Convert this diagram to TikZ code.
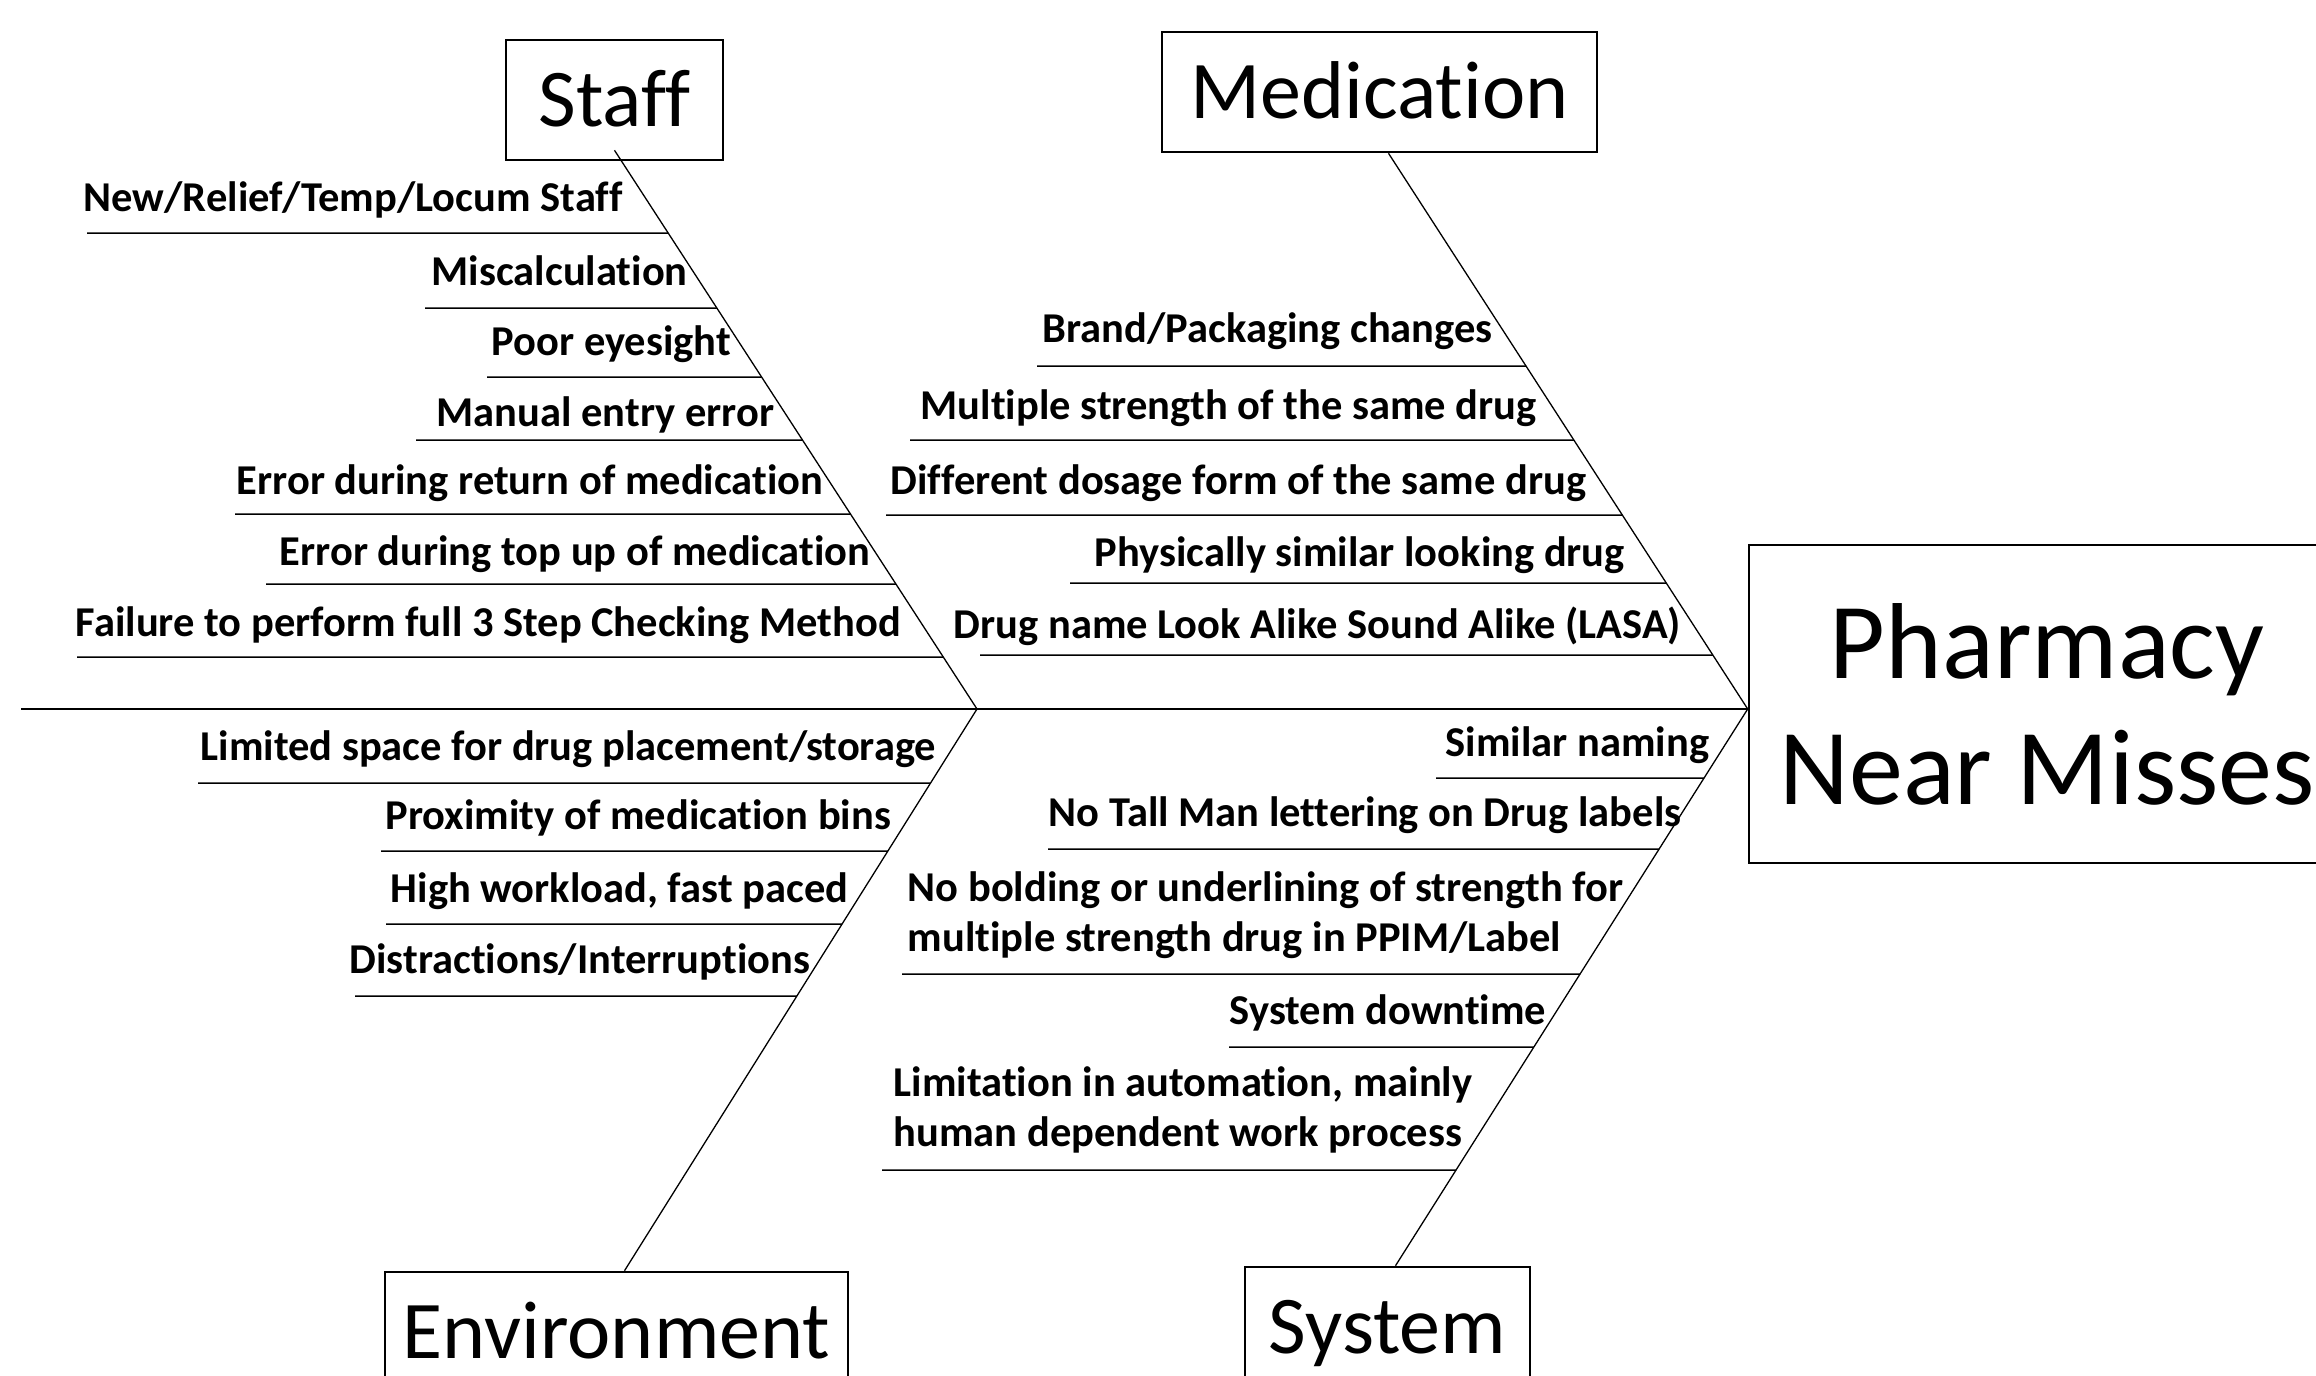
\documentclass[tikz,border=0pt]{standalone}
\usepackage{fontspec}
\setmainfont{Carlito}[Ligatures=NoCommon]
\usetikzlibrary{calc}

\tikzset{
  head/.style={draw, line width=2.6pt, inner sep=0pt, minimum height=120pt,
    text height=52pt, text depth=0pt, font=\fontsize{82}{98}\selectfont},
  cause/.style={inner sep=0pt, anchor=base west, align=left,
    font=\fontsize{42.5}{50}\selectfont\bfseries},
  bone/.style={line width=1.3pt},
  twig/.style={line width=1.5pt}
}

\begin{document}
\begin{tikzpicture}[x=1pt, y=-1pt]
  \useasboundingbox (0,0) rectangle (2316,1376);
  \node[head, minimum width=217pt] (staff) at (614.5,100) {Staff};
  \node[head, minimum width=435pt] (med) at (1379.5,92) {Medication};
  \node[head, minimum width=463pt] (env) at (616.5,1332) {Environment};
  \node[head, minimum width=285pt] (sys) at (1387.5,1327) {System};
  \node[draw, line width=2.6pt, minimum width=596pt, minimum height=318pt, align=center,
    font=\fontsize{108}{126}\selectfont] (effect) at (2047,704) {Pharmacy\\Near Misses};
  \coordinate (tail) at (21,709);
  \coordinate (j1) at (977,709);
  \coordinate (j2) at (tail -| effect.west);
  \coordinate (staffroot) at ([yshift=11pt]staff.south);
  \coordinate (medroot) at ([xshift=9pt]med.south);
  \coordinate (envroot) at ([xshift=8pt]env.north);
  \coordinate (sysroot) at ([xshift=8pt]sys.north);
  \draw[bone] (tail) -- (j2);
  \draw[bone] (staffroot) -- (j1) -- (envroot);
  \draw[bone] (medroot) -- (j2) -- (sysroot);
  \foreach \ly/\lx/\tx/\bl/\txt [count=\i] in {
      233/87/83/211/{New/Relief/Temp/Locum Staff},
      308/425/431/285/Miscalculation,
      377/487/491/355/Poor eyesight,
      440/416/436/426/Manual entry error,
      514/235/236/494/Error during return of medication,
      584/266/279/565/Error during top up of medication,
      657/77/75/636/Failure to perform full 3 Step Checking Method}
    \draw[twig] (\lx,\ly) -- (intersection of staffroot--j1 and \lx,\ly--2316,\ly)
      node[cause] (staff-\i) at (\tx,\bl) {\txt};
  \foreach \ly/\lx/\tx/\bl/\txt [count=\i] in {
      366/1037/1042/342/{Brand/Packaging changes},
      440/910/920/419/Multiple strength of the same drug,
      515/886/890/494/Different dosage form of the same drug,
      583/1070/1094/566/Physically similar looking drug,
      655/980/953/638/Drug name Look Alike Sound Alike (LASA)}
    \draw[twig] (\lx,\ly) -- (intersection of medroot--j2 and \lx,\ly--2316,\ly)
      node[cause] (med-\i) at (\tx,\bl) {\txt};
  \foreach \ly/\lx/\tx/\bl/\txt [count=\i] in {
      783/198/200/760/{Limited space for drug placement/storage},
      851/381/385/829/Proximity of medication bins,
      924/386/390/902/{High workload, fast paced},
      996/355/349/973/{Distractions/Interruptions}}
    \draw[twig] (\lx,\ly) -- (intersection of envroot--j1 and \lx,\ly--2316,\ly)
      node[cause] (env-\i) at (\tx,\bl) {\txt};
  \foreach \ly/\lx/\tx/\bl/\txt [count=\i] in {
      778/1436/1445/756/Similar naming,
      849/1048/1048/826/No Tall Man lettering on Drug labels,
      974/902/907/951/{No bolding or underlining of strength for\\multiple strength drug in PPIM/Label},
      1047/1229/1229/1024/System downtime,
      1170/882/893/1146/{Limitation in automation, mainly\\human dependent work process}}
    \draw[twig] (\lx,\ly) -- (intersection of sysroot--j2 and \lx,\ly--2316,\ly)
      node[cause] (sys-\i) at (\tx,\bl) {\txt};
\end{tikzpicture}
\end{document}
